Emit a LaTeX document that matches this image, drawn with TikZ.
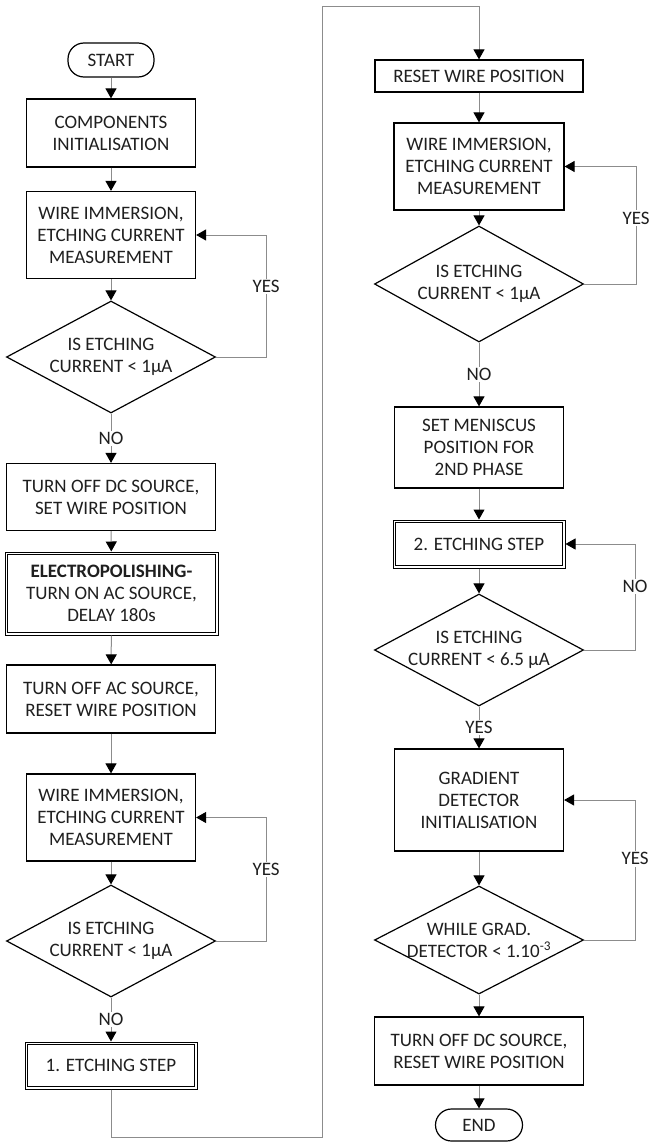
\documentclass[tikz,border=0pt]{standalone}
\usepackage{fontspec}
\setmainfont{Carlito}
\usetikzlibrary{arrows.meta,shapes.geometric}
\begin{document}
\begin{tikzpicture}[x=1pt,y=-1pt,
  every node/.style={font=\fontsize{19}{22}\selectfont, text=black!88, align=center},
  procbox/.style={draw=black, line width=1.2pt, fill=white, inner sep=0pt},
  dblbox/.style={procbox, line width=1pt},
  innerframe/.style={draw=black, line width=1pt},
  termbox/.style={procbox, rounded corners=16pt},
  decbox/.style={shape=diamond, draw=black, line width=1.2pt, fill=white, inner sep=0pt},
  conn/.style={draw=black!45, line width=1pt, -{Triangle[length=10pt,width=11pt,color=black]}},
  lab/.style={fill=white, inner sep=1.5pt},
]
\useasboundingbox (0,0) rectangle (648,1142);

% ---- left column ----
\node[termbox, minimum width=86pt, minimum height=34pt] (start) at (111,60) {START};
\node[procbox, minimum width=169pt, minimum height=68pt] (init) at (111,133) {COMPONENTS\\INITIALISATION};
\node[procbox, minimum width=169pt, minimum height=87pt] (imm1) at (111,235) {WIRE IMMERSION,\\ETCHING CURRENT\\MEASUREMENT};
\node[decbox, minimum width=209pt, minimum height=112pt] (dec1) at (111,357) {};
\node (dec1t) at (dec1) {IS ETCHING\\CURRENT < 1μA};
\node[procbox, minimum width=209pt, minimum height=67pt] (dcoff) at (111,497) {TURN OFF DC SOURCE,\\SET WIRE POSITION};
\node[dblbox, minimum width=213pt, minimum height=83pt] (polish) at (111.5,593.5) {\textbf{ELECTROPOLISHING-}\\TURN ON AC SOURCE,\\DELAY 180s};
\node[procbox, minimum width=209pt, minimum height=68pt] (acoff) at (111,699) {TURN OFF AC SOURCE,\\RESET WIRE POSITION};
\node[procbox, minimum width=169pt, minimum height=87pt] (imm2) at (111,817.5) {WIRE IMMERSION,\\ETCHING CURRENT\\MEASUREMENT};
\node[decbox, minimum width=209pt, minimum height=112pt] (dec2) at (111,941) {};
\node (dec2t) at (dec2) {IS ETCHING\\CURRENT < 1μA};
\node[dblbox, minimum width=172pt, minimum height=47pt] (etch1) at (111,1065.5) {1. ETCHING STEP};

% ---- right column ----
\node[procbox, minimum width=208pt, minimum height=32pt] (reset) at (479,76) {RESET WIRE POSITION};
\node[procbox, minimum width=170pt, minimum height=87pt] (imm3) at (479,166.5) {WIRE IMMERSION,\\ETCHING CURRENT\\MEASUREMENT};
\node[decbox, minimum width=209pt, minimum height=116pt] (dec3) at (479,284) {};
\node (dec3t) at (dec3) {IS ETCHING\\CURRENT < 1μA};
\node[procbox, minimum width=169pt, minimum height=81pt] (menis) at (479,447.5) {SET MENISCUS\\POSITION FOR\\2ND PHASE};
\node[dblbox, minimum width=172pt, minimum height=48pt] (etch2) at (479,544) {2. ETCHING STEP};
\node[decbox, minimum width=209pt, minimum height=112pt] (dec4) at (479,650) {};
\node (dec4t) at (dec4) {IS ETCHING\\CURRENT < 6.5 μA};
\node[procbox, minimum width=169pt, minimum height=102pt] (grad) at (479,800) {GRADIENT\\DETECTOR\\INITIALISATION};
\node[decbox, minimum width=209pt, minimum height=108pt] (dec5) at (479,940) {};
\node (dec5t) at (dec5) {WHILE GRAD.\\DETECTOR < 1.10\textsuperscript{-3}};
\node[procbox, minimum width=209pt, minimum height=68pt] (dcoff2) at (479,1051) {TURN OFF DC SOURCE,\\RESET WIRE POSITION};
\node[termbox, minimum width=87pt, minimum height=32pt] (end) at (479,1125) {END};

% inner frames of the double-bordered steps
\foreach \n in {polish, etch1, etch2}
  \draw[innerframe] ([xshift=3pt,yshift=-3pt]\n.north west) rectangle ([xshift=-3pt,yshift=3pt]\n.south east);

% ---- main flow, left ----
\draw[conn] (start) -- (init);
\draw[conn] (init) -- (imm1);
\draw[conn] (imm1) -- (dec1);
\draw[conn] (dec1) -- node[lab]{NO} (dcoff);
\draw[conn] (dcoff) -- (polish);
\draw[conn] (polish) -- (acoff);
\draw[conn] (acoff) -- (imm2);
\draw[conn] (imm2) -- (dec2);
\draw[conn] (dec2) -- node[lab]{NO} (etch1);

% ---- loops, left ----
\draw[conn] (dec1.east) -- ++(50,0) |- node[lab, pos=0.29]{YES} (imm1.east);
\draw[conn] (dec2.east) -- ++(50,0) |- node[lab, pos=0.29]{YES} (imm2.east);

% ---- crossing to the right column ----
\draw[conn] (etch1.south) -- ++(0,48) -| (322,7) -| (reset.north);

% ---- main flow, right ----
\draw[conn] (reset) -- (imm3);
\draw[conn] (imm3) -- (dec3);
\draw[conn] (dec3) -- node[lab]{NO} (menis);
\draw[conn] (menis) -- (etch2);
\draw[conn] (etch2) -- (dec4);
\draw[conn] (dec4) -- node[lab]{YES} (grad);
\draw[conn] (grad) -- (dec5);
\draw[conn] (dec5) -- (dcoff2);
\draw[conn] (dcoff2) -- (end);

% ---- loops, right ----
\draw[conn] (dec3.east) -- ++(52,0) |- node[lab, pos=0.28]{YES} (imm3.east);
\draw[conn] (dec4.east) -- ++(51,0) |- node[lab, pos=0.3]{NO} (etch2.east);
\draw[conn] (dec5.east) -- ++(51,0) |- node[lab, pos=0.29]{YES} (grad.east);
\end{tikzpicture}
\end{document}
